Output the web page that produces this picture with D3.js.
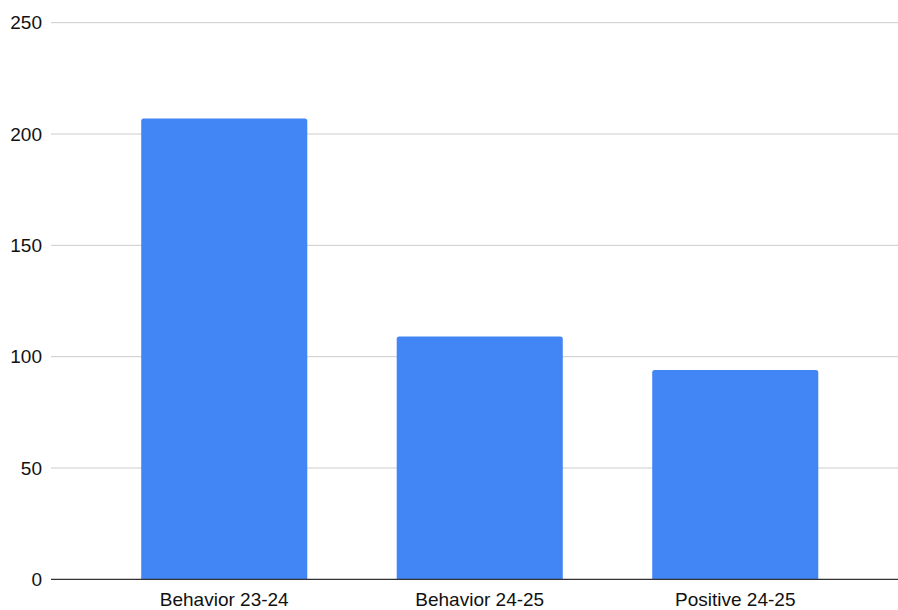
<!DOCTYPE html>
<html>
<head>
<meta charset="utf-8">
<script src="https://cdn.jsdelivr.net/npm/d3@7"></script>
<style>
  html, body { margin: 0; padding: 0; background: #fff; }
  svg { display: block; font-family: "Liberation Sans", Arial, Helvetica, sans-serif; }
</style>
</head>
<body>
<svg id="chart" width="898" height="610"></svg>
<script>
// Chart data
const categories = ["Behavior 23-24", "Behavior 24-25", "Positive 24-25"];
const values = [207, 109, 94];
const yTicks = [0, 50, 100, 150, 200, 250];

const W = 898, H = 610;
const gridLeft = 51, gridRight = 898;
const plotTop = 22.7, plotBottom = 579.3;

const svg = d3.select("#chart");

const x = d3.scaleBand()
  .domain(categories)
  .range([96.5, 863])
  .paddingInner(0.35)
  .paddingOuter(0.175);

const y = d3.scaleLinear()
  .domain([0, 250])
  .range([plotBottom, plotTop]);

// Horizontal gridlines
svg.append("g")
  .selectAll("line")
  .data(yTicks.filter(d => d !== 0))
  .join("line")
  .attr("x1", gridLeft).attr("x2", gridRight)
  .attr("y1", d => y(d)).attr("y2", d => y(d))
  .attr("stroke", "#cccccc")
  .attr("stroke-width", 1);

// Y axis labels
svg.append("g")
  .selectAll("text")
  .data(yTicks)
  .join("text")
  .attr("x", 42)
  .attr("y", d => y(d))
  .attr("dy", "0.35em")
  .attr("text-anchor", "end")
  .attr("font-size", 19)
  .attr("fill", "#111")
  .text(d => d);

// Bars with slightly rounded top corners
const r = 2.5;
function barPath(x0, y0, w, yb) {
  return `M${x0},${yb}V${y0 + r}Q${x0},${y0} ${x0 + r},${y0}H${x0 + w - r}Q${x0 + w},${y0} ${x0 + w},${y0 + r}V${yb}Z`;
}
svg.append("g")
  .selectAll("path")
  .data(categories.map((c, i) => ({ c, v: values[i] })))
  .join("path")
  .attr("d", d => barPath(x(d.c), y(d.v), x.bandwidth(), y(0)))
  .attr("fill", "#4285f4");

// Baseline
svg.append("line")
  .attr("x1", gridLeft).attr("x2", gridRight)
  .attr("y1", y(0)).attr("y2", y(0))
  .attr("stroke", "#333333")
  .attr("stroke-width", 1.2);

// Category labels
svg.append("g")
  .selectAll("text")
  .data(categories)
  .join("text")
  .attr("x", d => x(d) + x.bandwidth() / 2)
  .attr("y", 606)
  .attr("text-anchor", "middle")
  .attr("font-size", 19)
  .attr("fill", "#111")
  .text(d => d);
</script>
</body>
</html>
